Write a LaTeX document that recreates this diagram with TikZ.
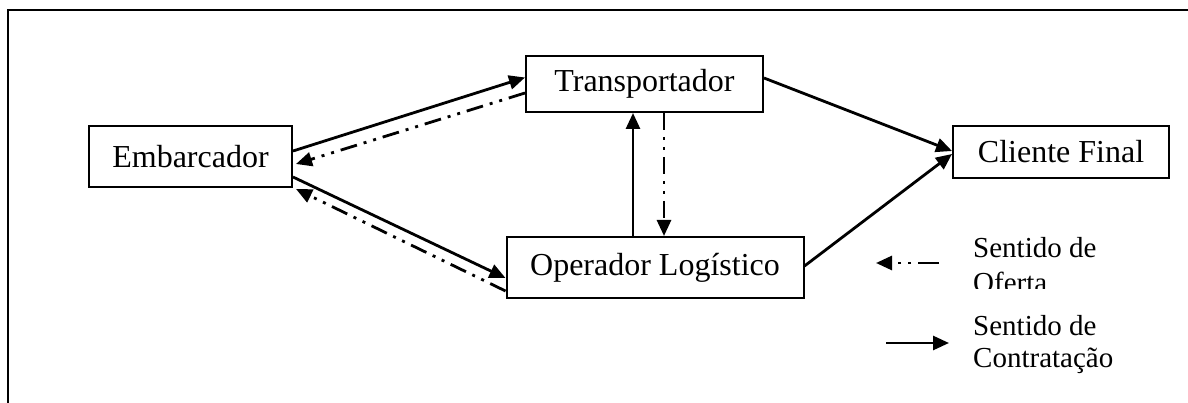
\documentclass[tikz,border=0pt]{standalone}
\usepackage{fontspec}
\setmainfont{Liberation Serif}
\usetikzlibrary{arrows.meta,calc}
\begin{document}
\begin{tikzpicture}[x=1pt,y=-1pt,
  box/.style={draw,line width=2pt,rectangle,inner sep=0pt,font=\fontsize{32}{38}\selectfont},
  contr/.style={line width=2.8pt,-{Triangle[length=16pt,width=14pt]}},
  ofer/.style={line width=2.8pt,dash pattern=on 17pt off 7pt on 3pt off 7pt on 3pt off 7pt,-{Triangle[length=16pt,width=14pt]}},
  legtext/.style={anchor=base west,inner sep=0pt,font=\fontsize{29}{33}\selectfont}]
\useasboundingbox (0,0) rectangle (1188,403);
% frame
\draw[line width=2pt] (7.5,403) -- (7.5,10) -- (1188,10);
% boxes
\node[box,minimum width=203pt,minimum height=61pt] (emb) at (190.5,156.5) {Embarcador};
\node[box,minimum width=237pt,minimum height=56pt] (trans) at (644.5,84) {Transportador};
\node[box,minimum width=297pt,minimum height=61pt] (op) at (655,267.5) {Operador Logístico};
\node[box,minimum width=216pt,minimum height=52pt] (cf) at (1061,152) {Cliente Final};
% connectors
\draw[contr] ([yshift=5.5pt]emb.east) -- ([yshift=6.5pt]trans.west);
\draw[ofer] ([yshift=-9pt]trans.west) -- ([xshift=3pt,yshift=-7.5pt]emb.east);
\draw[contr] ([yshift=-20.5pt]emb.east) -- ([yshift=-10.5pt]op.west);
\draw[ofer] ([yshift=-23.5pt]op.west) -- ([xshift=3pt,yshift=-1pt]emb.south east);
\draw[contr] ([xshift=-22pt]op.north) -- ([xshift=-22pt]op.north |- trans.south);
\draw[ofer] ([xshift=19.5pt]trans.south) -- ([xshift=19.5pt]trans.south |- op.north);
\draw[contr] ([yshift=6pt]trans.east) -- ([yshift=1pt]cf.west);
\draw[contr] ([yshift=1.5pt]op.east) -- ([yshift=-2pt]cf.west);
% legend
\coordinate (lo1) at (939,263);
\coordinate (lo2) at (876,263);
\coordinate (lc1) at (886,343);
\coordinate (lc2) at (949,343);
\draw[ofer,dash pattern=on 21pt off 7pt on 3pt off 7pt on 3pt off 7pt] (lo1) -- (lo2);
\draw[contr] (lc1) -- (lc2);
\node[legtext] (t1) at (973,258) {Sentido de};
\begin{scope}
  \clip (960,230) rectangle (1188,288);
  \node[legtext] (t2) at (973,292) {Oferta};
\end{scope}
\node[legtext] (t3) at (973,335) {Sentido de};
\node[legtext] (t4) at (973,367) {Contratação};
\end{tikzpicture}
\end{document}
